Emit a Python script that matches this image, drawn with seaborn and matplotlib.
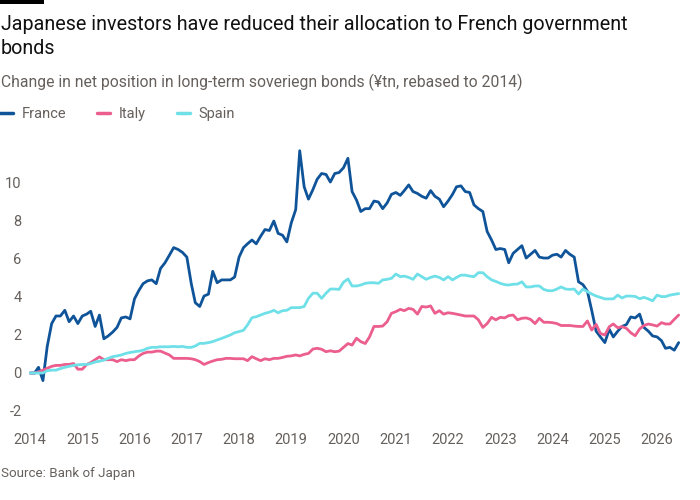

# Japanese holdings of euro-area sovereign bonds - FT style line chart

import numpy as np
import pandas as pd
import matplotlib
matplotlib.use("Agg")
import matplotlib.pyplot as plt
import matplotlib.dates as mdates
import matplotlib.patches as mpatches
import seaborn as sns

#----------------------------------------------------------------------------------------------------------------------

# Section 1 - Data (monthly, Jan 2014 - Jun 2026)

start_month = "2014-01-01"
n_months = 150

france = [
    0.0, 0.0, 0.3, -0.4, 1.4, 2.6, 3.0, 3.0, 3.3, 2.7, 3.0, 2.6,
    3.0, 3.1, 3.25, 2.45, 3.05, 1.8, 1.95, 2.15, 2.4, 2.9, 2.95, 2.85,
    3.9, 4.35, 4.7, 4.85, 4.9, 4.7, 5.5, 5.8, 6.2, 6.6, 6.5, 6.35,
    6.1, 4.7, 3.7, 3.5, 4.05, 4.15, 5.35, 4.75, 4.9, 4.9, 4.9, 5.05,
    6.1, 6.6, 6.8, 7.0, 6.8, 7.2, 7.55, 7.5, 8.0, 7.35, 7.25, 6.9,
    7.9, 8.6, 11.7, 9.8, 9.15, 9.65, 10.2, 10.5, 10.45, 10.05, 10.5, 10.55,
    10.8, 11.3, 9.55, 9.1, 8.5, 8.65, 8.65, 9.05, 9.0, 8.65, 8.95, 9.4,
    9.5, 9.35, 9.6, 9.9, 9.55, 9.45, 9.3, 9.2, 9.6, 9.3, 9.15, 8.75,
    9.05, 9.4, 9.8, 9.85, 9.55, 9.5, 8.85, 8.65, 8.5, 7.45, 7.0, 6.5,
    6.55, 6.5, 5.8, 6.3, 6.5, 6.7, 6.05, 6.25, 6.45, 6.1, 6.05, 6.05,
    6.2, 6.25, 6.1, 6.45, 6.25, 6.1, 4.8, 4.65, 4.3, 3.3, 2.2, 1.9,
    1.6, 2.3, 1.9, 2.2, 2.45, 2.55, 2.95, 2.9, 3.1, 2.4, 2.2, 1.95,
    1.9, 1.7, 1.3, 1.35, 1.2, 1.6,
]

italy = [
    0.0, 0.0, 0.05, 0.15, 0.25, 0.35, 0.4, 0.4, 0.45, 0.45, 0.5, 0.2,
    0.2, 0.45, 0.55, 0.7, 0.85, 0.7, 0.7, 0.7, 0.6, 0.7, 0.65, 0.7,
    0.7, 0.9, 1.03, 1.1, 1.1, 1.15, 1.15, 1.05, 0.95, 0.77, 0.77, 0.77,
    0.77, 0.75, 0.7, 0.6, 0.45, 0.55, 0.63, 0.7, 0.72, 0.77, 0.77, 0.75,
    0.75, 0.75, 0.65, 0.86, 0.75, 0.65, 0.75, 0.7, 0.77, 0.77, 0.82, 0.88,
    0.9, 0.95, 0.9, 0.98, 1.03, 1.26, 1.3, 1.25, 1.12, 1.17, 1.12, 1.15,
    1.35, 1.55, 1.47, 1.83, 1.65, 1.55, 1.9, 2.45, 2.45, 2.47, 2.7, 3.14,
    3.23, 3.35, 3.28, 3.4, 3.35, 3.1, 3.5, 3.47, 3.53, 3.14, 3.28, 3.1,
    3.17, 3.14, 3.1, 3.05, 3.0, 3.0, 3.0, 2.8, 2.4, 2.6, 2.93, 2.8,
    2.93, 2.9, 3.02, 3.05, 2.8, 2.88, 2.9, 2.82, 2.6, 2.88, 2.67, 2.67,
    2.65, 2.6, 2.5, 2.5, 2.5, 2.47, 2.45, 2.45, 2.74, 2.26, 2.56, 2.08,
    2.0, 2.44, 2.58, 2.38, 2.44, 2.35, 2.12, 1.96, 2.32, 2.5, 2.58, 2.53,
    2.47, 2.65, 2.58, 2.58, 2.82, 3.05,
]

spain = [
    0.0, 0.0, 0.0, 0.0, 0.12, 0.15, 0.15, 0.23, 0.3, 0.35, 0.4, 0.43,
    0.45, 0.45, 0.5, 0.58, 0.62, 0.68, 0.77, 0.86, 0.9, 0.95, 1.03, 1.08,
    1.12, 1.15, 1.2, 1.3, 1.35, 1.35, 1.38, 1.38, 1.38, 1.4, 1.38, 1.4,
    1.35, 1.35, 1.42, 1.56, 1.56, 1.6, 1.65, 1.74, 1.82, 1.91, 2.0, 2.12,
    2.18, 2.25, 2.53, 2.91, 2.96, 3.05, 3.14, 3.2, 3.3, 3.17, 3.28, 3.3,
    3.44, 3.44, 3.44, 3.5, 3.93, 4.2, 4.2, 3.93, 4.2, 4.42, 4.42, 4.4,
    4.78, 4.95, 4.58, 4.58, 4.63, 4.72, 4.75, 4.75, 4.72, 4.9, 4.93, 4.98,
    5.21, 5.07, 5.1, 5.03, 4.93, 5.21, 5.07, 4.93, 5.03, 5.1, 5.03, 4.9,
    5.07, 4.9, 5.03, 5.15, 5.15, 5.1, 5.07, 5.28, 5.28, 5.07, 4.9, 4.82,
    4.72, 4.65, 4.63, 4.67, 4.68, 4.8, 4.53, 4.53, 4.58, 4.58, 4.4, 4.33,
    4.33, 4.42, 4.53, 4.42, 4.4, 4.42, 4.16, 4.42, 4.28, 4.16, 4.05, 3.98,
    3.9, 3.9, 3.9, 4.1, 3.95, 4.05, 4.05, 4.03, 3.91, 3.98, 3.9, 3.8,
    4.1, 4.02, 4.02, 4.1, 4.14, 4.18,
]

countries = ["France", "Italy", "Spain"]
colors = ["#0F5499", "#EB5E8D", "#6FE0E8"]
y_ticks = [-2, 0, 2, 4, 6, 8, 10]
x_years = list(range(2014, 2027))

title = "Japanese investors have reduced their allocation to French government\nbonds"
subtitle = "Change in net position in long-term soveriegn bonds (¥tn, rebased to 2014)"
source = "Source: Bank of Japan"

#----------------------------------------------------------------------------------------------------------------------

# Section 2 - Long-form table

months = pd.date_range(start_month, periods=n_months, freq="MS")
df = pd.concat([
    pd.DataFrame({"date": months, "value": vals, "country": name})
    for name, vals in zip(countries, [france, italy, spain])
])

#----------------------------------------------------------------------------------------------------------------------

# Section 3 - Plot

sns.set_theme(style="white")
plt.rcParams["font.family"] = ["Roboto", "DejaVu Sans"]
grey = "#66605C"

fig = plt.figure(figsize=(7, 5), dpi=100)
ax = fig.add_axes([0.0409, 0.159, 0.9366, 0.551])

sns.lineplot(data=df, x="date", y="value", hue="country", hue_order=countries,
             palette=colors, linewidth=2.0, ax=ax, legend=False)

ax.set_xlim(pd.Timestamp("2013-12-22"), pd.Timestamp("2026-07-10"))
ax.set_ylim(-2.5, 12)
ax.set_yticks(y_ticks)
ax.set_yticklabels([str(t) for t in y_ticks])
ax.set_xticks([pd.Timestamp(f"{y}-01-01") for y in x_years])
ax.set_xticklabels([str(y) for y in x_years])
ax.set_xlabel("")
ax.set_ylabel("")
ax.tick_params(axis="both", length=0, labelsize=10.5, labelcolor=grey)
ax.tick_params(axis="y", pad=5)
ax.tick_params(axis="x", pad=9)
sns.despine(ax=ax, left=True, bottom=True)
ax.grid(False)

# legend across the top
handles = [plt.Line2D([], [], color=c, linewidth=2.5) for c in colors]
fig.legend(handles, countries, loc="center left", bbox_to_anchor=(0.0, 1 - 114 / 500),
           ncol=3, frameon=False, fontsize=10.5, labelcolor=grey, borderpad=0,
           borderaxespad=0, handlelength=0.9, handletextpad=0.6, columnspacing=2.1)

# header / footer text
fig.add_artist(mpatches.Rectangle((0, 1 - 4 / 500), 44 / 700, 4 / 500,
                                  transform=fig.transFigure, color="black", lw=0))
fig.text(0.001, 1 - 15 / 500, title, ha="left", va="top", fontsize=14.2,
         color="#111111", linespacing=1.32)
fig.text(0.001, 1 - 82 / 500, subtitle, ha="left", va="center", fontsize=11.3, color=grey)
fig.text(0.001, 1 - 473 / 500, source, ha="left", va="center", fontsize=9.6, color=grey)

fig.savefig("out.png", dpi=100, facecolor="white")
